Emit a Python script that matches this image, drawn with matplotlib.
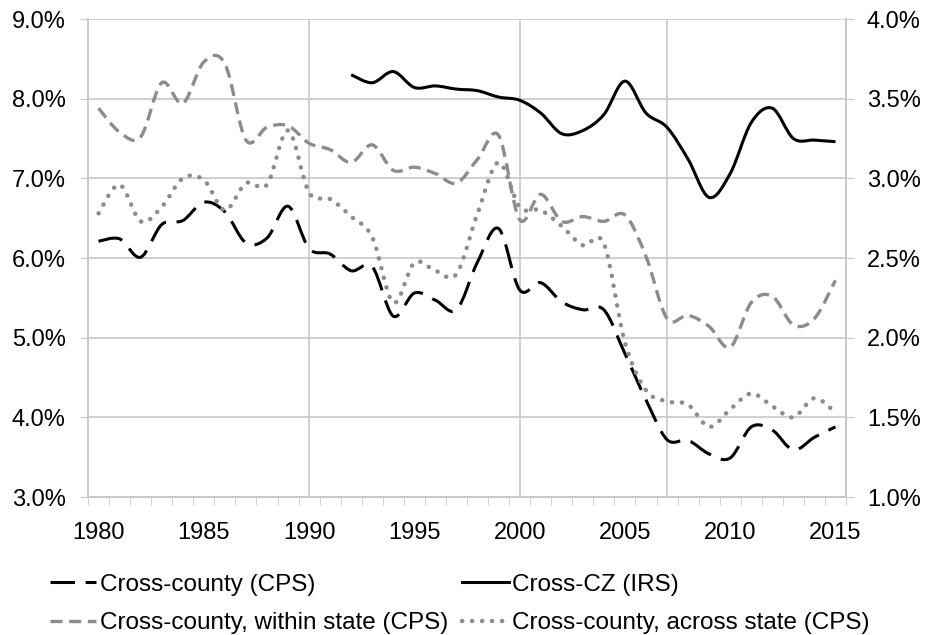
import numpy as np
import matplotlib
matplotlib.use("Agg")
import matplotlib.pyplot as plt
from matplotlib.path import Path
from matplotlib.patches import PathPatch
from matplotlib.lines import Line2D
from matplotlib.ticker import FuncFormatter, MultipleLocator

plt.rcParams['font.family'] = ['Liberation Sans', 'DejaVu Sans']

# Data (percent)
years = list(range(1980, 2016))

cross_county = [6.21, 6.24, 6.01, 6.42, 6.47, 6.70, 6.58, 6.19, 6.25, 6.65,
                6.12, 6.05, 5.84, 5.89, 5.27, 5.56, 5.47, 5.35, 5.95, 6.37,
                5.60, 5.69, 5.45, 5.35, 5.35, 4.80, 4.22, 3.72, 3.71, 3.54,
                3.49, 3.88, 3.84, 3.59, 3.75, 3.88]

cz_years = list(range(1992, 2016))
cross_cz = [3.65, 3.60, 3.67, 3.57, 3.58, 3.56, 3.55, 3.51, 3.49, 3.41,
            3.28, 3.30, 3.40, 3.61, 3.41, 3.32, 3.12, 2.88, 3.03, 3.35,
            3.44, 3.25, 3.24, 3.23]

within_state = [3.44, 3.29, 3.26, 3.60, 3.47, 3.73, 3.72, 3.24, 3.32, 3.33,
                3.22, 3.18, 3.10, 3.21, 3.05, 3.07, 3.03, 2.97, 3.12, 3.27,
                2.74, 2.90, 2.73, 2.76, 2.73, 2.77, 2.51, 2.12, 2.14, 2.07,
                1.94, 2.22, 2.26, 2.08, 2.12, 2.36]

across_state = [2.78, 2.96, 2.73, 2.82, 3.00, 2.99, 2.80, 2.97, 2.96, 3.30,
                2.91, 2.87, 2.76, 2.63, 2.22, 2.47, 2.42, 2.40, 2.78, 3.10,
                2.82, 2.80, 2.70, 2.58, 2.59, 1.97, 1.67, 1.60, 1.58, 1.44,
                1.55, 1.65, 1.57, 1.50, 1.62, 1.53]

labels = ["Cross-county (CPS)", "Cross-CZ (IRS)",
          "Cross-county, within state (CPS)", "Cross-county, across state (CPS)"]


def smooth_path(x, y):
    # Bezier curve through the points, like a spreadsheet "smoothed line"
    p = np.column_stack([x, y]).astype(float)
    n = len(p)
    verts = [p[0]]
    codes = [Path.MOVETO]
    for i in range(n - 1):
        p0 = p[max(i - 1, 0)]
        p3 = p[min(i + 2, n - 1)]
        c1 = p[i] + (p[i + 1] - p0) / 6
        c2 = p[i + 1] - (p3 - p[i]) / 6
        verts += [c1, c2, p[i + 1]]
        codes += [Path.CURVE4] * 3
    return Path(verts, codes)


fig = plt.figure(figsize=(9.28, 6.35), dpi=100)
ax = fig.add_axes([88 / 928, 1 - 497 / 635, (846 - 88) / 928, (497 - 19) / 635])
ax2 = ax.twinx()

grid_col = '#c8c8c8'
gray = '#8c8c8c'

styles = {
    'cc': dict(color='black', lw=2.2, ls=(0, (8, 3.5)), cap='butt'),
    'cz': dict(color='black', lw=2.2, ls='-', cap='butt'),
    'ws': dict(color=gray, lw=2.4, ls=(0, (3.6, 2.0)), cap='butt'),
    'as': dict(color=gray, lw=3.2, ls=(0, (0.05, 2.2)), cap='round'),
}


def draw(axis, x, y, st):
    patch = PathPatch(smooth_path(x, y), fill=False, edgecolor=st['color'],
                      lw=st['lw'], linestyle=st['ls'], capstyle=st['cap'],
                      joinstyle='round', zorder=3)
    axis.add_patch(patch)


draw(ax, years, cross_county, styles['cc'])
draw(ax2, cz_years, cross_cz, styles['cz'])
draw(ax2, years, within_state, styles['ws'])
draw(ax2, years, across_state, styles['as'])

ax.set_xlim(1979.5, 2015.5)
ax.set_ylim(3, 9)
ax2.set_ylim(1, 4)

ax.xaxis.set_major_locator(MultipleLocator(5))
ax.set_xticks(np.arange(1979.5, 2016, 1), minor=True)
ax.tick_params(axis='x', which='major', length=0, pad=18, labelsize=17)
ax.tick_params(axis='x', which='minor', length=6, color=grid_col, direction='out')
ax.yaxis.set_major_locator(MultipleLocator(1))
ax2.yaxis.set_major_locator(MultipleLocator(0.5))
ax.yaxis.set_major_formatter(FuncFormatter(lambda v, p: f"{v:.1f}%"))
ax2.yaxis.set_major_formatter(FuncFormatter(lambda v, p: f"{v:.1f}%"))
ax.tick_params(axis='y', length=6, color=grid_col, pad=10, labelsize=17)
ax2.tick_params(axis='y', length=6, color=grid_col, pad=9, labelsize=17)

ax.yaxis.grid(True, color=grid_col, lw=1.2)
ax.set_axisbelow(True)
for yr in [1990, 2000, 2007]:
    ax.axvline(yr, color=grid_col, lw=1.2, zorder=1)

for a in (ax, ax2):
    a.spines['top'].set_visible(False)
    for s in ('left', 'right', 'bottom'):
        a.spines[s].set_color(grid_col)
        a.spines[s].set_linewidth(1.2)

handles = [
    Line2D([], [], color='black', lw=2.2, ls=(0, (8, 3.5))),
    Line2D([], [], color=gray, lw=2.4, ls=(0, (3.6, 2.0))),
    Line2D([], [], color='black', lw=2.2, ls='-'),
    Line2D([], [], color=gray, lw=3.2, ls=(0, (0.05, 2.2)), dash_capstyle='round'),
]
leg_labels = [labels[0], labels[2], labels[1], labels[3]]
fig.legend(handles, leg_labels, ncol=2, loc='upper left',
           bbox_to_anchor=(40 / 928, 1 - 564 / 635), frameon=False,
           fontsize=17.5, handlelength=1.9, handletextpad=0.15,
           columnspacing=0.6, labelspacing=0.68, borderaxespad=0)

fig.savefig('out.png', dpi=100)
